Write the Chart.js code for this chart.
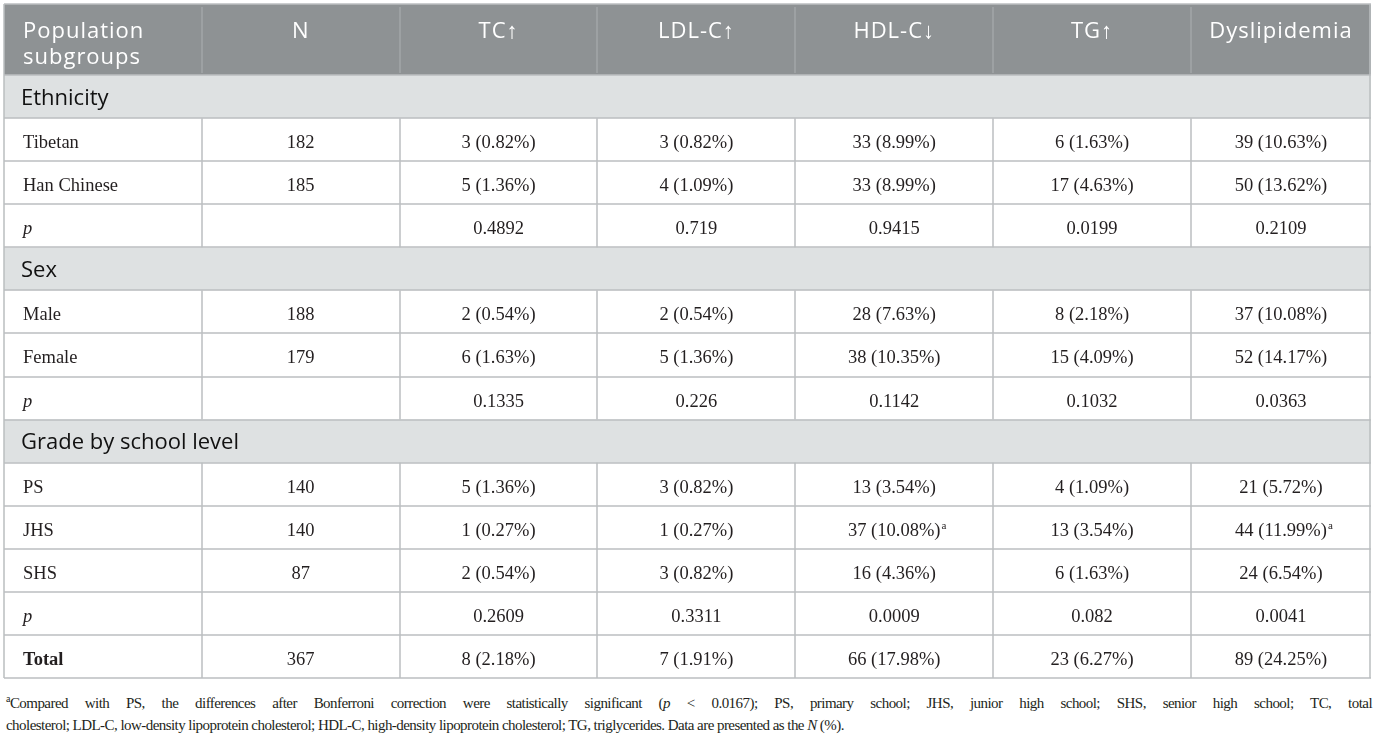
<!DOCTYPE html>
<html>
<head>
<meta charset="utf-8">
<script src="https://cdn.jsdelivr.net/npm/chart.js@4.4.1/dist/chart.umd.min.js"></script>
<style>
  body { margin: 0; background: #fff; }
  #wrap { position: absolute; left: 0; top: 0; width: 1375px; height: 682px; }
  #note { position: absolute; left: 6px; top: 693px; width: 1366px; font-family: "Liberation Serif", serif; font-size: 15px; letter-spacing: -0.55px; line-height: 21.5px; color: #231f20; }
  #note div { text-align: justify; text-align-last: justify; }
  #note div.last { text-align-last: left; }
  #note sup { font-size: 10px; line-height: 0; }
</style>
</head>
<body>
<div id="wrap"><canvas id="lipid-table"></canvas></div>
<div id="note">
  <div><sup>a</sup>Compared with PS, the differences after Bonferroni correction were statistically significant (<i>p</i> &lt; 0.0167); PS, primary school; JHS, junior high school; SHS, senior high school; TC, total</div>
  <div class="last">cholesterol; LDL-C, low-density lipoprotein cholesterol; HDL-C, high-density lipoprotein cholesterol; TG, triglycerides. Data are presented as the <i>N</i> (%).</div>
</div>
<script>
var columns = ['Population\nsubgroups', 'N', 'TC↑', 'LDL-C↑', 'HDL-C↓', 'TG↑', 'Dyslipidemia'];

var rowLabels = ['Ethnicity', 'Tibetan', 'Han Chinese', 'p',
                 'Sex', 'Male', 'Female', 'p',
                 'Grade by school level', 'PS', 'JHS', 'SHS', 'p', 'Total'];
var rowKinds = ['section', 'data', 'data', 'p',
                'section', 'data', 'data', 'p',
                'section', 'data', 'data', 'data', 'p', 'total'];

var nCounts  = [null, '182', '185', null, null, '188', '179', null, null, '140', '140', '87', null, '367'];
var tcCounts = [null, '3 (0.82%)', '5 (1.36%)', '0.4892', null, '2 (0.54%)', '6 (1.63%)', '0.1335',
                null, '5 (1.36%)', '1 (0.27%)', '2 (0.54%)', '0.2609', '8 (2.18%)'];
var ldlCounts = [null, '3 (0.82%)', '4 (1.09%)', '0.719', null, '2 (0.54%)', '5 (1.36%)', '0.226',
                 null, '3 (0.82%)', '1 (0.27%)', '3 (0.82%)', '0.3311', '7 (1.91%)'];
var hdlCounts = [null, '33 (8.99%)', '33 (8.99%)', '0.9415', null, '28 (7.63%)', '38 (10.35%)', '0.1142',
                 null, '13 (3.54%)', '37 (10.08%)^a', '16 (4.36%)', '0.0009', '66 (17.98%)'];
var tgCounts = [null, '6 (1.63%)', '17 (4.63%)', '0.0199', null, '8 (2.18%)', '15 (4.09%)', '0.1032',
                null, '4 (1.09%)', '13 (3.54%)', '6 (1.63%)', '0.082', '23 (6.27%)'];
var dysCounts = [null, '39 (10.63%)', '50 (13.62%)', '0.2109', null, '37 (10.08%)', '52 (14.17%)', '0.0363',
                 null, '21 (5.72%)', '44 (11.99%)^a', '24 (6.54%)', '0.0041', '89 (24.25%)'];

var tableColumns = [rowLabels, nCounts, tcCounts, ldlCounts, hdlCounts, tgCounts, dysCounts];

// one point per filled cell, x = column index, y = row index
var cells = [];
tableColumns.forEach(function(col, c) {
  col.forEach(function(v, r) {
    if (v !== null) cells.push({ x: c, y: r, text: v });
  });
});

var SERIF = '"Liberation Serif", "Times New Roman", serif';
var SANS = '"Open Sans", "Noto Sans", sans-serif';

var tablePlugin = {
  id: 'tableDraw',
  beforeDatasetsDraw: function(chart) {
    var ctx = chart.ctx, xs = chart.scales.x, ys = chart.scales.y, area = chart.chartArea;
    var left = area.left, right = area.right;
    var hTop = ys.getPixelForValue(ys.min), hBot = ys.getPixelForValue(-0.5);
    var nRows = rowLabels.length;
    ctx.save();

    ctx.fillStyle = '#8e9294';
    ctx.fillRect(left, hTop, right - left, hBot - hTop);
    ctx.fillStyle = '#dee1e2';
    rowKinds.forEach(function(k, r) {
      if (k !== 'section') return;
      var y0 = ys.getPixelForValue(r - 0.5), y1 = ys.getPixelForValue(r + 0.5);
      ctx.fillRect(left, y0, right - left, y1 - y0);
    });

    // header dividers
    ctx.lineWidth = 1.5;
    ctx.strokeStyle = '#a2a6a8';
    for (var c = 1; c < columns.length; c++) {
      var hx = Math.round(xs.getPixelForValue(c - 0.5));
      ctx.beginPath(); ctx.moveTo(hx, hTop + 3); ctx.lineTo(hx, hBot - 2); ctx.stroke();
    }

    ctx.strokeStyle = '#bbbec0';
    // horizontal rules
    for (var r = 0; r <= nRows; r++) {
      var y = Math.round(ys.getPixelForValue(r - 0.5));
      ctx.beginPath(); ctx.moveTo(left, y); ctx.lineTo(right, y); ctx.stroke();
    }
    ctx.beginPath(); ctx.moveTo(left, hTop); ctx.lineTo(right, hTop); ctx.stroke();
    // vertical rules in body rows
    rowKinds.forEach(function(k, r) {
      if (k === 'section') return;
      var y0 = ys.getPixelForValue(r - 0.5), y1 = ys.getPixelForValue(r + 0.5);
      for (var c = 1; c < columns.length; c++) {
        var vx = Math.round(xs.getPixelForValue(c - 0.5));
        ctx.beginPath(); ctx.moveTo(vx, y0); ctx.lineTo(vx, y1); ctx.stroke();
      }
    });
    // outer frame
    ctx.beginPath();
    ctx.moveTo(left, hTop); ctx.lineTo(left, ys.getPixelForValue(nRows - 0.5));
    ctx.moveTo(right - 1, hTop); ctx.lineTo(right - 1, ys.getPixelForValue(nRows - 0.5));
    ctx.stroke();
    ctx.restore();
  },
  afterDatasetsDraw: function(chart) {
    var ctx = chart.ctx, xs = chart.scales.x, area = chart.chartArea;
    var left = area.left, right = area.right;
    var hTop = chart.scales.y.getPixelForValue(chart.scales.y.min);
    function colCenter(c) {
      var a = xs.getPixelForValue(c - 0.5), b = Math.min(xs.getPixelForValue(c + 0.5), right);
      return (a + b) / 2;
    }
    ctx.save();
    ctx.textBaseline = 'alphabetic';

    // header labels
    ctx.fillStyle = '#ffffff';
    ctx.font = '22px ' + SANS;
    ctx.letterSpacing = '1px';
    columns.forEach(function(label, c) {
      var lines = label.split('\n');
      ctx.textAlign = c === 0 ? 'left' : 'center';
      var tx = c === 0 ? left + 19 : colCenter(c);
      lines.forEach(function(line, i) {
        ctx.fillText(line, tx, hTop + 34 + i * 25.5);
      });
    });
    ctx.letterSpacing = '0px';

    // body cells
    var meta = chart.getDatasetMeta(0);
    var data = chart.data.datasets[0].data;
    meta.data.forEach(function(el, i) {
      var cell = data[i], kind = rowKinds[cell.y];
      var parts = cell.text.split('^');
      var baseY = el.y + 8.5;
      ctx.fillStyle = '#231f20';
      if (cell.x === 0) {
        ctx.textAlign = 'left';
        if (kind === 'section') {
          ctx.font = '22px ' + SANS;
          ctx.fillStyle = '#111111';
          ctx.fillText(parts[0], left + 17, el.y + 8);
          return;
        }
        ctx.font = (kind === 'p' ? 'italic ' : kind === 'total' ? 'bold ' : '') + '18.5px ' + SERIF;
        ctx.fillText(parts[0], left + 19, baseY);
        return;
      }
      ctx.font = '18.5px ' + SERIF;
      ctx.textAlign = 'center';
      var cx = colCenter(cell.x);
      ctx.fillText(parts[0], cx, baseY);
      if (parts[1]) {
        var w = ctx.measureText(parts[0]).width;
        ctx.font = '11px ' + SERIF;
        ctx.textAlign = 'left';
        ctx.fillText(parts[1], cx + w / 2 + 1, baseY - 7);
      }
    });
    ctx.restore();
  }
};

new Chart(document.getElementById('lipid-table').getContext('2d'), {
  type: 'scatter',
  data: {
    datasets: [{ data: cells, pointRadius: 0, pointHoverRadius: 0 }]
  },
  options: {
    responsive: true,
    maintainAspectRatio: false,
    animation: false,
    events: [],
    layout: { padding: { left: 4, right: 4, top: 4, bottom: 4 } },
    plugins: { legend: { display: false }, tooltip: { enabled: false } },
    scales: {
      // last column is narrower than the others
      x: { type: 'linear', display: false, min: -0.5, max: 6.41 },
      // header band is about 1.65 rows tall
      y: { type: 'linear', display: false, reverse: true, min: -2.15, max: 13.5 }
    }
  },
  plugins: [tablePlugin]
});
</script>
</body>
</html>
